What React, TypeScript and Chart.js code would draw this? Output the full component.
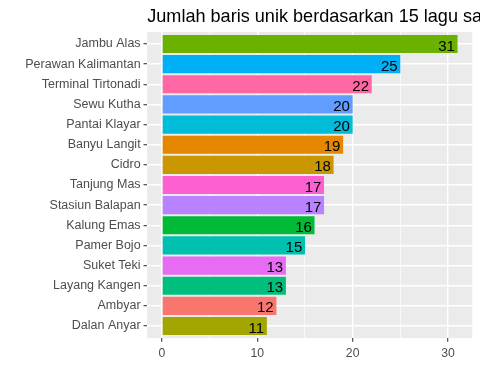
import React, { useEffect, useRef } from 'react';
import { Chart, registerables } from 'chart.js';

Chart.register(...registerables);

const songs = [
  'Jambu Alas',
  'Perawan Kalimantan',
  'Terminal Tirtonadi',
  'Sewu Kutha',
  'Pantai Klayar',
  'Banyu Langit',
  'Cidro',
  'Tanjung Mas',
  'Stasiun Balapan',
  'Kalung Emas',
  'Pamer Bojo',
  'Suket Teki',
  'Layang Kangen',
  'Ambyar',
  'Dalan Anyar',
];
const uniqueLines = [31, 25, 22, 20, 20, 19, 18, 17, 17, 16, 15, 13, 13, 12, 11];
const barColors = [
  '#6BB100',
  '#00B0F6',
  '#FF67A4',
  '#619CFF',
  '#00BCD8',
  '#E58700',
  '#C99800',
  '#FD61D1',
  '#B983FF',
  '#00BA38',
  '#00C0AF',
  '#E76BF3',
  '#00BF7D',
  '#F8766D',
  '#A3A500',
];
const majorTicks = [0, 10, 20, 30];
const titleText = 'Jumlah baris unik berdasarkan 15 lagu sampel';

const FONT = '"Liberation Sans", Arial, sans-serif';

export default function App() {
  const ref = useRef<HTMLCanvasElement | null>(null);

  useEffect(() => {
    if (!ref.current) return;
    const maxVal = Math.max(...uniqueLines);
    const expand = maxVal * 0.05;

    const panelPlugin = {
      id: 'panelBg',
      beforeDraw(chart: any) {
        const { ctx, chartArea } = chart;
        ctx.save();
        ctx.fillStyle = '#EBEBEB';
        ctx.fillRect(chartArea.left, chartArea.top, chartArea.right - chartArea.left, chartArea.bottom - chartArea.top);
        ctx.restore();
      },
      afterDatasetsDraw(chart: any) {
        const { ctx } = chart;
        const meta = chart.getDatasetMeta(0);
        ctx.save();
        ctx.font = `15px ${FONT}`;
        ctx.fillStyle = '#000000';
        ctx.textAlign = 'right';
        ctx.textBaseline = 'alphabetic';
        meta.data.forEach((bar: any, i: number) => {
          ctx.fillText(String(uniqueLines[i]), bar.x - 2.7, bar.y + 6.6);
        });
        ctx.restore();
      },
      afterDraw(chart: any) {
        const { ctx, chartArea } = chart;
        ctx.save();
        ctx.font = `18.1px ${FONT}`;
        ctx.fillStyle = '#000000';
        ctx.textAlign = 'left';
        ctx.textBaseline = 'alphabetic';
        ctx.fillText(titleText, chartArea.left, 21.6);
        ctx.restore();
      },
    };

    const chart = new Chart(ref.current, {
      type: 'bar',
      data: {
        labels: songs,
        datasets: [
          {
            data: uniqueLines,
            backgroundColor: barColors,
            borderWidth: 0,
            categoryPercentage: 1,
            barPercentage: 0.9,
          },
        ],
      },
      options: {
        indexAxis: 'y',
        animation: false,
        responsive: false,
        devicePixelRatio: 1,
        layout: { padding: { top: 31.9, right: 7.7, bottom: 0, left: 0 } },
        plugins: {
          legend: { display: false },
          title: { display: false },
          tooltip: { enabled: false },
        },
        scales: {
          x: {
            type: 'linear',
            min: -expand,
            max: maxVal + expand,
            ticks: {
              stepSize: 5,
              includeBounds: false,
              autoSkip: false,
              maxRotation: 0,
              padding: 4.3,
              color: '#4D4D4D',
              font: { family: FONT, size: 12.2 },
              callback: (v: any) => (majorTicks.includes(Number(v)) ? String(v) : ''),
            },
            afterBuildTicks: (scale: any) => {
              scale.ticks = scale.ticks.filter((t: any) => Math.abs(t.value / 5 - Math.round(t.value / 5)) < 1e-9);
            },
            afterFit: (scale: any) => {
              scale.height = 384 - 338.1;
            },
            grid: {
              color: '#FFFFFF',
              lineWidth: (c: any) => (majorTicks.includes(c.tick?.value) ? 1.42 : 0.71),
              drawTicks: true,
              tickLength: 3.67,
              tickWidth: 1.07,
              tickColor: (c: any) => (majorTicks.includes(c.tick?.value) ? '#333333' : 'rgba(0,0,0,0)'),
            },
            border: { display: false },
          },
          y: {
            type: 'category',
            offset: true,
            ticks: {
              autoSkip: false,
              padding: 2.93,
              color: '#4D4D4D',
              font: { family: FONT, size: 12.5 },
            },
            afterBuildTicks: (scale: any) => {
              scale._startValue = -0.6;
              scale._valueRange = songs.length - 1 + 1.2;
            },
            afterFit: (scale: any) => {
              scale.width = 147.2;
            },
            grid: {
              offset: false,
              color: '#FFFFFF',
              lineWidth: 1.42,
              drawTicks: true,
              tickLength: 3.67,
              tickWidth: 1.07,
              tickColor: '#333333',
            },
            border: { display: false },
          },
        },
      },
      plugins: [panelPlugin],
    });

    return () => chart.destroy();
  }, []);

  return (
    <div style={{ position: 'absolute', left: 0, top: 0, width: 480, height: 384 }}>
      <canvas ref={ref} width={480} height={384} style={{ display: 'block' }} />
    </div>
  );
}
